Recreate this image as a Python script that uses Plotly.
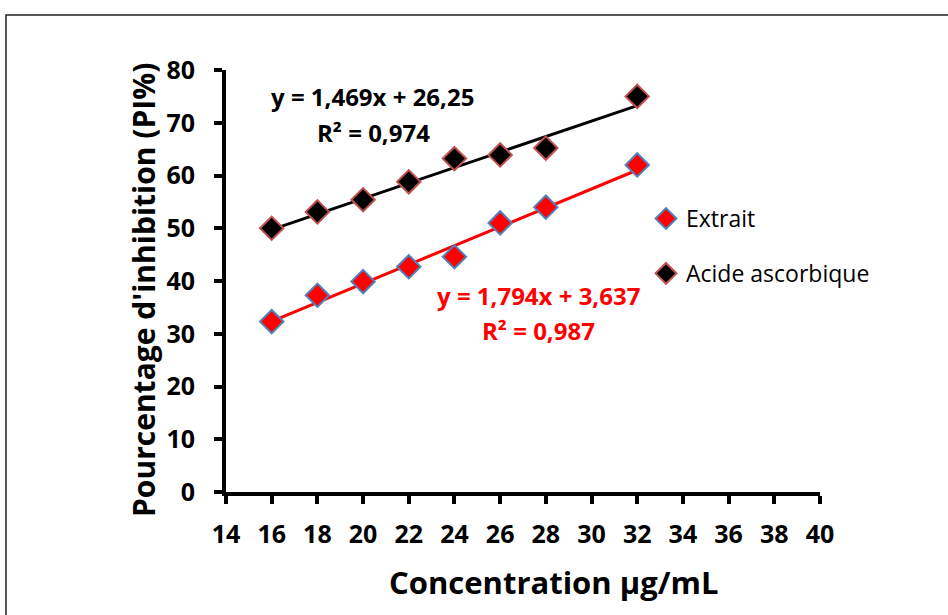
import plotly.graph_objects as go

# Concentrations (µg/mL)
concentration = [16, 18, 20, 22, 24, 26, 28, 32]

# Percentage of inhibition for each sample
extrait = [32.3, 37.3, 39.9, 42.7, 44.6, 51.0, 54.0, 62.0]
acide_ascorbique = [50.0, 53.1, 55.4, 58.8, 63.2, 63.9, 65.2, 75.0]

# Linear regression coefficients (slope, intercept) and R²
fit_extrait = (1.794, 3.637, 0.987)
fit_acide = (1.469, 26.25, 0.974)

x_ticks = list(range(14, 41, 2))
y_ticks = list(range(0, 81, 10))

FONT = "Open Sans"
RED = "#FF0000"
BLUE_EDGE = "#4F81BD"
BROWN_EDGE = "#C0504D"

x_line = [min(concentration), max(concentration)]


def fr(v, nd):
    return f"{v:.{nd}f}".replace(".", ",")


fig = go.Figure()

# Trendlines
fig.add_trace(go.Scatter(
    x=x_line, y=[fit_acide[0] * v + fit_acide[1] for v in x_line],
    mode="lines", line=dict(color="black", width=3), showlegend=False,
    hoverinfo="skip"))
fig.add_trace(go.Scatter(
    x=x_line, y=[fit_extrait[0] * v + fit_extrait[1] for v in x_line],
    mode="lines", line=dict(color=RED, width=3), showlegend=False,
    hoverinfo="skip"))

# Measured points
fig.add_trace(go.Scatter(
    x=concentration, y=extrait, mode="markers", name="Extrait",
    legendgroup="a",
    marker=dict(symbol="diamond", size=18, color=RED,
                line=dict(color=BLUE_EDGE, width=2))))
fig.add_trace(go.Scatter(
    x=concentration, y=acide_ascorbique, mode="markers",
    name="Acide ascorbique", legendgroup="b",
    marker=dict(symbol="diamond", size=18, color="black",
                line=dict(color=BROWN_EDGE, width=2))))

eq_font = dict(family=FONT, size=24, color="black", weight="bold")
annotations = [
    dict(x=20.4, y=74.9, text=f"y = {fr(fit_acide[0], 3)}x + {fr(fit_acide[1], 2)}",
         font=eq_font),
    dict(x=20.45, y=68.1, text=f"R² = {fr(fit_acide[2], 3)}", font=eq_font),
    dict(x=27.7, y=37.2,
         text=f"y = {fr(fit_extrait[0], 3)}x + {fr(fit_extrait[1], 3)}",
         font=dict(eq_font, color=RED)),
    dict(x=27.7, y=30.7, text=f"R² = {fr(fit_extrait[2], 3)}",
         font=dict(eq_font, color=RED)),
]
for a in annotations:
    a.update(xref="x", yref="y", showarrow=False,
             xanchor="center", yanchor="middle")

# Axis titles
annotations.append(dict(
    xref="paper", yref="paper", x=(143 - 226) / 594, y=(492 - 290) / 422,
    xanchor="center", yanchor="middle",
    text="Pourcentage d'inhibition (PI%)", textangle=-90, showarrow=False,
    font=dict(family=FONT, size=30, color="black", weight="bold")))
annotations.append(dict(
    xref="paper", yref="paper", x=(553 - 226) / 594, y=(492 - 582) / 422,
    xanchor="center", yanchor="middle",
    text="Concentration µg/mL", showarrow=False,
    font=dict(family=FONT, size=31, color="black", weight="bold")))

fig.update_layout(
    width=948, height=615,
    margin=dict(l=226, r=128, t=70, b=123),
    paper_bgcolor="white", plot_bgcolor="white",
    annotations=annotations,
    legend=dict(x=(646 - 226) / 594, y=(492 - 197) / 422,
                xanchor="left", yanchor="top",
                font=dict(family=FONT, size=23, color="black"),
                traceorder="grouped", tracegroupgap=22,
                bgcolor="rgba(0,0,0,0)"),
    shapes=[dict(type="rect", xref="paper", yref="paper",
                 x0=(6 - 226) / 594, x1=(990 - 226) / 594,
                 y0=(492 - 660) / 422, y1=(492 - 15) / 422,
                 line=dict(color="#222", width=1.5), layer="below")],
)

tick_font = dict(family=FONT, size=25, color="black", weight="bold")
axis_common = dict(
    showgrid=False, zeroline=False, showline=True, linecolor="black",
    linewidth=4, ticks="outside", ticklen=8, tickwidth=4, tickcolor="black",
    tickfont=tick_font,
)
fig.update_xaxes(range=[14, 40], tickvals=x_ticks, ticklabelstandoff=9,
                 **axis_common)
fig.update_yaxes(range=[0, 80], tickvals=y_ticks, ticklabelstandoff=14,
                 **axis_common)

fig.write_html("out.html")
